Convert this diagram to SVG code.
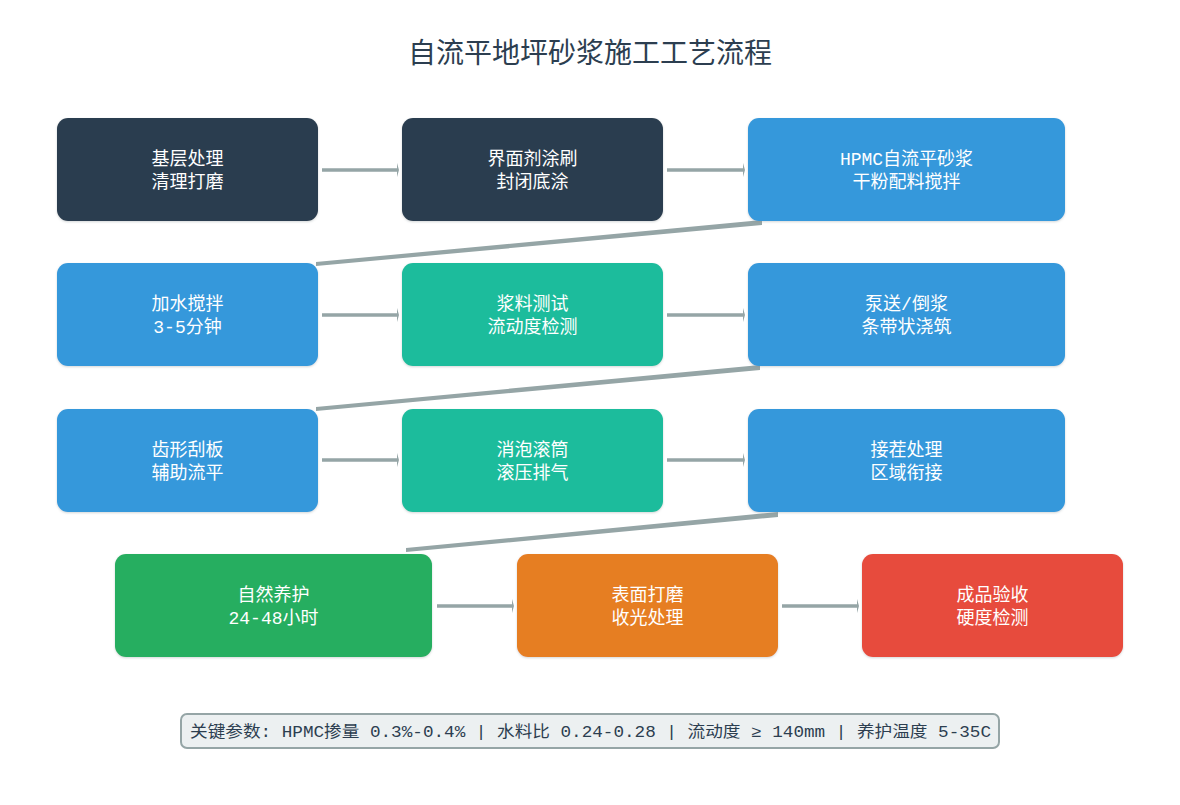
<svg xmlns="http://www.w3.org/2000/svg" width="1180" height="805" viewBox="0 0 1180 805">
<style>
.box{stroke:none}
.t{font-family:"Liberation Mono","Noto Sans CJK SC",monospace;font-size:18px;fill:#ffffff;text-anchor:middle}
.title{font-family:"Noto Sans CJK SC","Noto Sans",sans-serif;font-size:28px;fill:#2c3e50;text-anchor:middle}
.c{stroke:#95a5a6;stroke-width:4;fill:none}
.h{stroke:#95a5a6;stroke-width:3.5;fill:none;marker-end:url(#arr)}
.note{font-family:"Liberation Mono","Noto Sans CJK SC",monospace;font-size:16px;fill:#2c3e50}
</style>
<defs>
<marker id="arr" markerWidth="3" markerHeight="14" refX="1" refY="7" markerUnits="userSpaceOnUse" orient="auto">
<path d="M0,0 L2,7 L0,14 Z" fill="#95a5a6"/>
</marker>
<filter id="sh" x="-5%" y="-5%" width="110%" height="115%">
<feDropShadow dx="0" dy="1" stdDeviation="1" flood-color="#7f8c8d" flood-opacity="0.35"/>
</filter>
</defs>
<rect width="1180" height="805" fill="#ffffff"/>
<text class="title" x="590" y="63">自流平地坪砂浆施工工艺流程</text>

<g id="connectors">
<line class="h" x1="322" y1="170" x2="398" y2="170"/>
<line class="h" x1="667" y1="170" x2="744" y2="170"/>
<polygon points="762,220 762,225 316,266 316,262" fill="#95a5a6"/>
<line class="h" x1="322" y1="315" x2="398" y2="315"/>
<line class="h" x1="667" y1="315" x2="744" y2="315"/>
<polygon points="760,365 760,370 316,411 316,407" fill="#95a5a6"/>
<line class="h" x1="322" y1="460" x2="398" y2="460"/>
<line class="h" x1="667" y1="460" x2="744" y2="460"/>
<polygon points="778,512 778,517 406,552 406,548" fill="#95a5a6"/>
<line class="h" x1="437" y1="606" x2="513" y2="606"/>
<line class="h" x1="782" y1="606" x2="858" y2="606"/>
</g>

<g id="n1"><rect class="box" filter="url(#sh)" x="57" y="118" width="261" height="103" rx="11" fill="#2c3e50"/><text class="t" x="187.5" y="165">基层处理</text><text class="t" x="187.5" y="188">清理打磨</text></g>
<g id="n2"><rect class="box" filter="url(#sh)" x="402" y="118" width="261" height="103" rx="11" fill="#2c3e50"/><text class="t" x="532.5" y="165">界面剂涂刷</text><text class="t" x="532.5" y="188">封闭底涂</text></g>
<g id="n3"><rect class="box" filter="url(#sh)" x="748" y="118" width="317" height="103" rx="11" fill="#3498db"/><text class="t" x="906.5" y="165">HPMC自流平砂浆</text><text class="t" x="906.5" y="188">干粉配料搅拌</text></g>

<g id="n4"><rect class="box" filter="url(#sh)" x="57" y="263" width="261" height="103" rx="11" fill="#3498db"/><text class="t" x="187.5" y="310">加水搅拌</text><text class="t" x="187.5" y="333">3-5分钟</text></g>
<g id="n5"><rect class="box" filter="url(#sh)" x="402" y="263" width="261" height="103" rx="11" fill="#1abc9c"/><text class="t" x="532.5" y="310">浆料测试</text><text class="t" x="532.5" y="333">流动度检测</text></g>
<g id="n6"><rect class="box" filter="url(#sh)" x="748" y="263" width="317" height="103" rx="11" fill="#3498db"/><text class="t" x="906.5" y="310">泵送/倒浆</text><text class="t" x="906.5" y="333">条带状浇筑</text></g>

<g id="n7"><rect class="box" filter="url(#sh)" x="57" y="409" width="261" height="103" rx="11" fill="#3498db"/><text class="t" x="187.5" y="456">齿形刮板</text><text class="t" x="187.5" y="479">辅助流平</text></g>
<g id="n8"><rect class="box" filter="url(#sh)" x="402" y="409" width="261" height="103" rx="11" fill="#1abc9c"/><text class="t" x="532.5" y="456">消泡滚筒</text><text class="t" x="532.5" y="479">滚压排气</text></g>
<g id="n9"><rect class="box" filter="url(#sh)" x="748" y="409" width="317" height="103" rx="11" fill="#3498db"/><text class="t" x="906.5" y="456">接茬处理</text><text class="t" x="906.5" y="479">区域衔接</text></g>

<g id="n10"><rect class="box" filter="url(#sh)" x="115" y="554" width="317" height="103" rx="11" fill="#27ae60"/><text class="t" x="273.5" y="601">自然养护</text><text class="t" x="273.5" y="624">24-48小时</text></g>
<g id="n11"><rect class="box" filter="url(#sh)" x="517" y="554" width="261" height="103" rx="11" fill="#e67e22"/><text class="t" x="647.5" y="601">表面打磨</text><text class="t" x="647.5" y="624">收光处理</text></g>
<g id="n12"><rect class="box" filter="url(#sh)" x="862" y="554" width="261" height="103" rx="11" fill="#e74c3c"/><text class="t" x="992.5" y="601">成品验收</text><text class="t" x="992.5" y="624">硬度检测</text></g>

<g id="note">
<rect x="181" y="714" width="818" height="34" rx="6" fill="#ecf0f1" stroke="#95a5a6" stroke-width="2"/>
<text class="note" x="190" y="737" textLength="801" lengthAdjust="spacingAndGlyphs">关键参数: HPMC掺量 0.3%-0.4% | 水料比 0.24-0.28 | 流动度 ≥ 140mm | 养护温度 5-35C</text>
</g>
</svg>
